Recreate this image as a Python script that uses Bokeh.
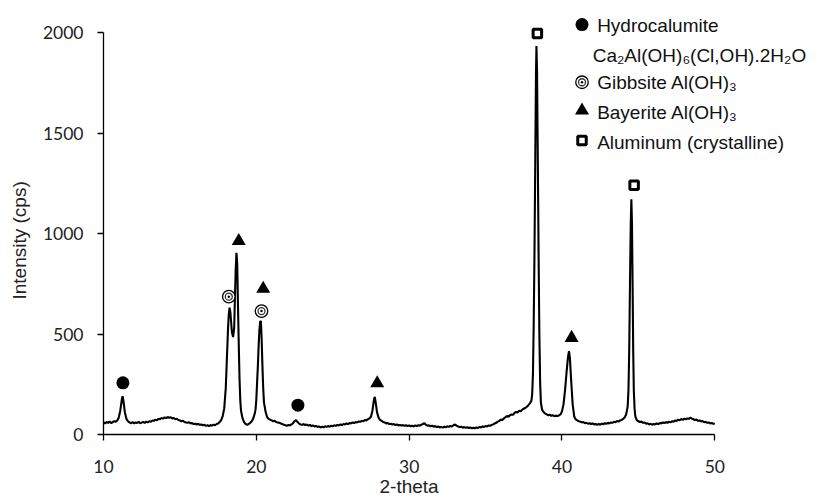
from bokeh.plotting import figure
from bokeh.models import Range1d, FixedTicker, Title
from bokeh.core.properties import value
from bokeh.embed import file_html
from bokeh.resources import INLINE

# ---------------- data ----------------
two_theta = [
    10.0, 10.1, 10.2, 10.3, 10.4, 10.5, 10.6, 10.7, 10.8, 10.9,
    11.0, 11.1, 11.2, 11.25, 11.3, 11.4, 11.5, 11.6, 11.7, 11.8,
    11.9, 12.0, 12.1, 12.2, 12.3, 12.4, 12.5, 12.6, 12.7, 12.8,
    12.9, 13.0, 13.1, 13.2, 13.3, 13.4, 13.5, 13.6, 13.7, 13.8,
    13.9, 14.0, 14.1, 14.2, 14.3, 14.4, 14.5, 14.6, 14.7, 14.8,
    14.9, 15.0, 15.1, 15.2, 15.3, 15.4, 15.5, 15.6, 15.7, 15.8,
    15.9, 16.0, 16.1, 16.2, 16.3, 16.4, 16.5, 16.6, 16.7, 16.8,
    16.9, 17.0, 17.1, 17.2, 17.3, 17.4, 17.5, 17.6, 17.7, 17.8,
    17.9, 18.0, 18.05, 18.1, 18.15, 18.2, 18.25, 18.3, 18.35, 18.4,
    18.48, 18.55, 18.6, 18.65, 18.7, 18.75, 18.8, 18.85, 18.9, 18.95,
    19.0, 19.1, 19.2, 19.3, 19.4, 19.5, 19.6, 19.7, 19.8, 19.9,
    19.95, 20.0, 20.05, 20.1, 20.15, 20.2, 20.25, 20.3, 20.35, 20.4,
    20.45, 20.5, 20.6, 20.7, 20.8, 20.9, 21.0, 21.1, 21.2, 21.3,
    21.4, 21.5, 21.6, 21.7, 21.8, 21.9, 22.0, 22.1, 22.2, 22.3,
    22.4, 22.5, 22.6, 22.7, 22.8, 22.9, 23.0, 23.1, 23.2, 23.3,
    23.4, 23.5, 23.6, 23.7, 23.8, 23.9, 24.0, 24.1, 24.2, 24.3,
    24.4, 24.5, 24.6, 24.7, 24.8, 24.9, 25.0, 25.1, 25.2, 25.3,
    25.4, 25.5, 25.6, 25.7, 25.8, 25.9, 26.0, 26.1, 26.2, 26.3,
    26.4, 26.5, 26.6, 26.7, 26.8, 26.9, 27.0, 27.1, 27.2, 27.3,
    27.4, 27.5, 27.6, 27.7, 27.75, 27.8, 27.9, 28.0, 28.1, 28.2,
    28.3, 28.4, 28.5, 28.6, 28.7, 28.8, 28.9, 29.0, 29.1, 29.2,
    29.3, 29.4, 29.5, 29.6, 29.7, 29.8, 29.9, 30.0, 30.1, 30.2,
    30.3, 30.4, 30.5, 30.6, 30.7, 30.8, 30.9, 31.0, 31.1, 31.2,
    31.3, 31.4, 31.5, 31.6, 31.7, 31.8, 31.9, 32.0, 32.1, 32.2,
    32.3, 32.4, 32.5, 32.6, 32.7, 32.8, 32.9, 33.0, 33.1, 33.2,
    33.3, 33.4, 33.5, 33.6, 33.7, 33.8, 33.9, 34.0, 34.1, 34.2,
    34.3, 34.4, 34.5, 34.6, 34.7, 34.8, 34.9, 35.0, 35.1, 35.2,
    35.3, 35.4, 35.5, 35.6, 35.7, 35.8, 35.9, 36.0, 36.1, 36.2,
    36.3, 36.4, 36.5, 36.6, 36.7, 36.8, 36.9, 37.0, 37.1, 37.2,
    37.3, 37.4, 37.5, 37.6, 37.7, 37.8, 37.9, 38.0, 38.05, 38.1,
    38.15, 38.2, 38.25, 38.3, 38.33, 38.37, 38.42, 38.47, 38.52, 38.57,
    38.62, 38.7, 38.8, 38.9, 39.0, 39.1, 39.2, 39.3, 39.4, 39.5,
    39.6, 39.7, 39.8, 39.9, 40.0, 40.1, 40.2, 40.3, 40.4, 40.46,
    40.52, 40.6, 40.7, 40.8, 40.9, 41.0, 41.1, 41.2, 41.3, 41.4,
    41.5, 41.6, 41.7, 41.8, 41.9, 42.0, 42.1, 42.2, 42.3, 42.4,
    42.5, 42.6, 42.7, 42.8, 42.9, 43.0, 43.1, 43.2, 43.3, 43.4,
    43.5, 43.6, 43.7, 43.8, 43.9, 44.0, 44.1, 44.2, 44.3, 44.35,
    44.4, 44.45, 44.5, 44.54, 44.58, 44.62, 44.66, 44.7, 44.75, 44.8,
    44.9, 45.0, 45.1, 45.2, 45.3, 45.4, 45.5, 45.6, 45.7, 45.8,
    45.9, 46.0, 46.1, 46.2, 46.3, 46.4, 46.5, 46.6, 46.7, 46.8,
    46.9, 47.0, 47.1, 47.2, 47.3, 47.4, 47.5, 47.6, 47.7, 47.8,
    47.9, 48.0, 48.1, 48.2, 48.3, 48.4, 48.5, 48.6, 48.7, 48.8,
    48.9, 49.0, 49.1, 49.2, 49.3, 49.4, 49.5, 49.6, 49.7, 49.8,
    49.9, 50.0,
]
intensity = [
    60, 55, 62, 58, 64, 57, 61, 66, 63, 70,
    85, 120, 175, 191, 170, 110, 78, 66, 60, 56,
    62, 55, 60, 57, 63, 56, 59, 62, 58, 64,
    60, 66, 63, 70, 68, 74, 71, 78, 76, 82,
    79, 85, 82, 87, 83, 86, 80, 82, 76, 78,
    72, 70, 66, 68, 62, 60, 58, 61, 55, 57,
    52, 54, 50, 53, 48, 50, 46, 48, 43, 46,
    42, 47, 44, 49, 46, 52, 55, 62, 72, 92,
    130, 230, 330, 430, 530, 600, 631, 610, 560, 510,
    485, 530, 680, 820, 904, 850, 640, 450, 280, 170,
    117, 80, 62, 52, 48, 52, 58, 66, 80, 105,
    125, 175, 260, 340, 440, 520, 560, 565, 470, 340,
    230, 160, 115, 88, 78, 74, 70, 66, 68, 62,
    60, 58, 55, 52, 48, 46, 44, 47, 45, 50,
    56, 66, 72, 62, 54, 50, 48, 52, 47, 50,
    44, 48, 42, 45, 40, 43, 38, 40, 35, 39,
    36, 41, 38, 42, 39, 44, 41, 46, 43, 48,
    45, 50, 47, 52, 50, 55, 52, 57, 55, 60,
    57, 62, 60, 65, 63, 68, 66, 72, 70, 76,
    80, 88, 120, 175, 187, 165, 110, 84, 72, 68,
    62, 60, 55, 57, 52, 54, 50, 52, 47, 50,
    45, 48, 44, 47, 43, 46, 42, 45, 41, 44,
    40, 45, 42, 46, 44, 49, 52, 56, 48, 44,
    46, 41, 44, 39, 42, 37, 40, 35, 38, 34,
    39, 36, 41, 38, 43, 40, 46, 50, 44, 40,
    37, 39, 34, 37, 33, 36, 32, 35, 31, 34,
    31, 35, 33, 37, 35, 40, 38, 42, 40, 45,
    43, 48, 50, 55, 58, 64, 68, 74, 72, 80,
    86, 92, 88, 96, 100, 98, 108, 112, 110, 118,
    115, 124, 128, 132, 138, 146, 155, 168, 200, 300,
    550, 900, 1350, 1800, 1933, 1800, 1350, 900, 500, 260,
    160, 122, 112, 104, 100, 96, 99, 93, 96, 91,
    94, 92, 95, 100, 115, 150, 220, 310, 390, 415,
    380, 270, 150, 90, 75, 70, 66, 64, 60, 62,
    56, 58, 54, 56, 52, 55, 50, 53, 48, 52,
    49, 54, 51, 56, 53, 58, 55, 60, 58, 63,
    61, 67, 64, 70, 72, 78, 85, 100, 140, 220,
    420, 750, 1050, 1171, 1050, 750, 420, 220, 130, 90,
    70, 66, 62, 64, 58, 60, 54, 56, 50, 53,
    49, 52, 50, 55, 52, 57, 55, 60, 57, 62,
    58, 64, 60, 66, 63, 70, 67, 74, 71, 77,
    73, 79, 75, 80, 78, 84, 79, 76, 72, 74,
    68, 70, 65, 67, 61, 63, 58, 60, 55, 57,
    53, 55,
]

# phase markers placed above the peaks
hydrocalumite_x = [11.27, 22.72]
hydrocalumite_y = [257, 146]
gibbsite_x = [18.2, 20.34]
gibbsite_y = [686, 614]
bayerite_x = [18.85, 20.45, 27.91, 40.63]
bayerite_y = [963, 725, 255, 481]
aluminum_x = [38.39, 44.72]
aluminum_y = [1996, 1240]

x_ticks = [10, 20, 30, 40, 50]
y_ticks = [0, 500, 1000, 1500, 2000]
x_title = "2-theta"
y_title = "Intensity (cps)"
legend_labels = [
    "Hydrocalumite",
    "Ca\u2082Al(OH)\u2086(Cl,OH).2H\u2082O",
    "Gibbsite Al(OH)\u2083",
    "Bayerite Al(OH)\u2083",
    "Aluminum (crystalline)",
]

# ---------------- layout / style ----------------
LEG_MX = 41.31
LEG_TX = [42.30, 42.01, 42.30, 42.30, 42.30]
LEG_TY = [2035, 1886, 1753, 1603, 1455]
LEG_MY = [2040, 1753, 1612, 1463]  # circle, gibbsite, triangle, square

TEXT_FONT = "Liberation Sans"
TICK_FONT = "Lato"

p = figure(frame_width=703, frame_height=422,
           x_range=Range1d(10, 56), y_range=Range1d(0, 2100),
           output_backend="svg", toolbar_location=None,
           min_border_left=103, min_border_right=10,
           min_border_top=12, min_border_bottom=0)
p.grid.visible = False
p.outline_line_color = None
p.background_fill_color = "white"
p.border_fill_color = "white"

for ax, ticks, bnds in ((p.xaxis[0], x_ticks, (10, 50)), (p.yaxis[0], y_ticks, (0, 2000))):
    ax.ticker = FixedTicker(ticks=ticks)
    ax.bounds = bnds
    ax.major_tick_out = 6
    ax.major_tick_in = 0
    ax.minor_tick_out = 0
    ax.minor_tick_in = 0
    ax.axis_line_color = "black"
    ax.axis_line_width = 1.3
    ax.major_tick_line_color = "black"
    ax.major_tick_line_width = 1.3
    ax.major_label_text_font = TICK_FONT
    ax.major_label_text_font_size = "17.5px"
    ax.major_label_text_color = "#222222"
p.xaxis[0].major_label_standoff = 19
p.yaxis[0].major_label_standoff = 14

# spectrum
p.line(two_theta, intensity, line_color="black", line_width=2.1)

# phase markers
def gibbsite(xs, ys):
    p.scatter(xs, ys, marker="circle", size=12.5, fill_color="white",
              line_color="black", line_width=1.3)
    p.scatter(xs, ys, marker="circle", size=7, fill_color="white",
              line_color="#333333", line_width=1.3)
    p.scatter(xs, ys, marker="circle", size=2.5, fill_color="black", line_color=None)

def aluminum(xs, ys):
    p.scatter(xs, ys, marker="square", size=8.5, fill_color="white",
              line_color="black", line_width=3)

p.scatter(hydrocalumite_x, hydrocalumite_y, marker="circle", size=13,
          fill_color="black", line_color=None)
gibbsite(gibbsite_x, gibbsite_y)
p.scatter(bayerite_x, bayerite_y, marker="triangle", size=14,
          fill_color="black", line_color=None)
aluminum(aluminum_x, aluminum_y)

# legend (drawn by hand, as in the reference)
p.scatter([LEG_MX], [LEG_MY[0]], marker="circle", size=13, fill_color="black", line_color=None)
gibbsite([LEG_MX], [LEG_MY[1]])
p.scatter([LEG_MX], [LEG_MY[2]], marker="triangle", size=14, fill_color="black", line_color=None)
aluminum([LEG_MX], [LEG_MY[3]])
p.text(x=LEG_TX, y=LEG_TY, text=legend_labels,
       text_font=value(TEXT_FONT), text_font_size=value("19px"),
       text_align=value("left"), text_baseline=value("middle"),
       text_color="#111111")

# axis titles (as side-panel titles so they can sit off-centre like the reference)
p.add_layout(Title(text=x_title, align="left", offset=276, standoff=0,
                   vertical_align="top", text_font=TEXT_FONT, text_font_size="19px",
                   text_font_style="normal", text_color="#222222"), "below")
p.add_layout(Title(text=y_title, align="left", offset=135, standoff=16,
                   vertical_align="top", text_font=TEXT_FONT, text_font_size="19px",
                   text_font_style="normal", text_color="#222222"), "left")

open("out.html", "w").write(file_html(p, INLINE))
